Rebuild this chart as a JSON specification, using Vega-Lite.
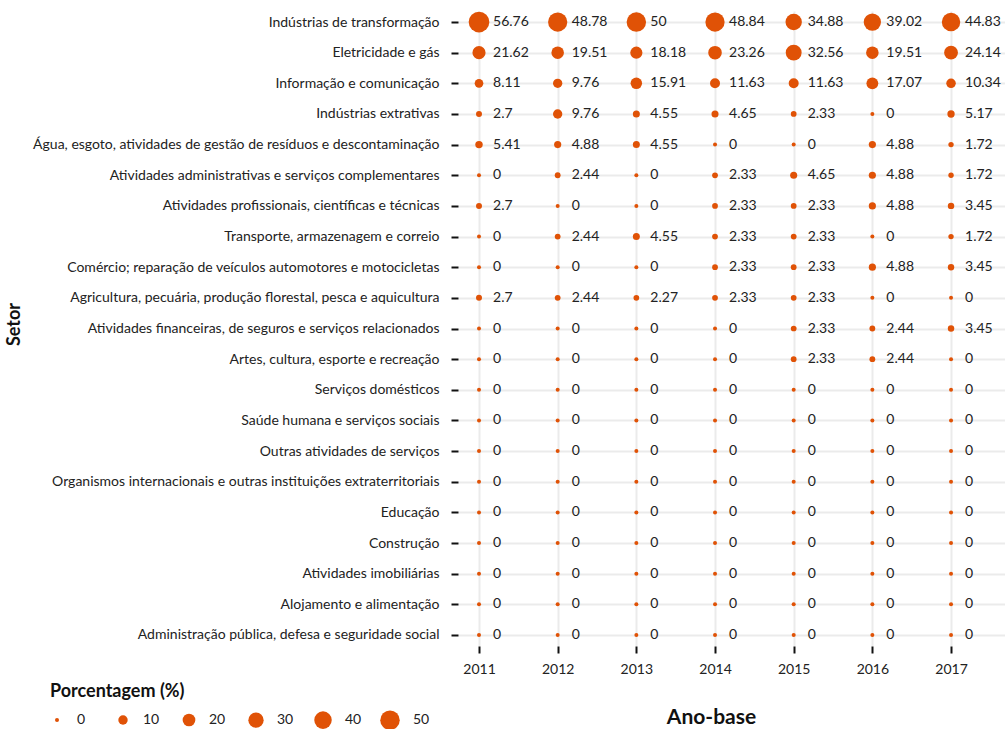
{
  "$schema": "https://vega.github.io/schema/vega-lite/v6.json",
  "width": 547,
  "height": 635,
  "autosize": {"type": "none"},
  "padding": {"left": 458, "top": 11, "right": 0, "bottom": 83},
  "background": "white",
  "config": {
    "view": {"stroke": null},
    "font": "Lato",
    "text": {"font": "Lato"}
  },
  "datasets": {
    "d": [
      {"setor": "Indústrias de transformação", "ano": 2011, "pct": 56.76},
      {"setor": "Indústrias de transformação", "ano": 2012, "pct": 48.78},
      {"setor": "Indústrias de transformação", "ano": 2013, "pct": 50},
      {"setor": "Indústrias de transformação", "ano": 2014, "pct": 48.84},
      {"setor": "Indústrias de transformação", "ano": 2015, "pct": 34.88},
      {"setor": "Indústrias de transformação", "ano": 2016, "pct": 39.02},
      {"setor": "Indústrias de transformação", "ano": 2017, "pct": 44.83},
      {"setor": "Eletricidade e gás", "ano": 2011, "pct": 21.62},
      {"setor": "Eletricidade e gás", "ano": 2012, "pct": 19.51},
      {"setor": "Eletricidade e gás", "ano": 2013, "pct": 18.18},
      {"setor": "Eletricidade e gás", "ano": 2014, "pct": 23.26},
      {"setor": "Eletricidade e gás", "ano": 2015, "pct": 32.56},
      {"setor": "Eletricidade e gás", "ano": 2016, "pct": 19.51},
      {"setor": "Eletricidade e gás", "ano": 2017, "pct": 24.14},
      {"setor": "Informação e comunicação", "ano": 2011, "pct": 8.11},
      {"setor": "Informação e comunicação", "ano": 2012, "pct": 9.76},
      {"setor": "Informação e comunicação", "ano": 2013, "pct": 15.91},
      {"setor": "Informação e comunicação", "ano": 2014, "pct": 11.63},
      {"setor": "Informação e comunicação", "ano": 2015, "pct": 11.63},
      {"setor": "Informação e comunicação", "ano": 2016, "pct": 17.07},
      {"setor": "Informação e comunicação", "ano": 2017, "pct": 10.34},
      {"setor": "Indústrias extrativas", "ano": 2011, "pct": 2.7},
      {"setor": "Indústrias extrativas", "ano": 2012, "pct": 9.76},
      {"setor": "Indústrias extrativas", "ano": 2013, "pct": 4.55},
      {"setor": "Indústrias extrativas", "ano": 2014, "pct": 4.65},
      {"setor": "Indústrias extrativas", "ano": 2015, "pct": 2.33},
      {"setor": "Indústrias extrativas", "ano": 2016, "pct": 0},
      {"setor": "Indústrias extrativas", "ano": 2017, "pct": 5.17},
      {"setor": "Água, esgoto, atividades de gestão de resíduos e descontaminação", "ano": 2011, "pct": 5.41},
      {"setor": "Água, esgoto, atividades de gestão de resíduos e descontaminação", "ano": 2012, "pct": 4.88},
      {"setor": "Água, esgoto, atividades de gestão de resíduos e descontaminação", "ano": 2013, "pct": 4.55},
      {"setor": "Água, esgoto, atividades de gestão de resíduos e descontaminação", "ano": 2014, "pct": 0},
      {"setor": "Água, esgoto, atividades de gestão de resíduos e descontaminação", "ano": 2015, "pct": 0},
      {"setor": "Água, esgoto, atividades de gestão de resíduos e descontaminação", "ano": 2016, "pct": 4.88},
      {"setor": "Água, esgoto, atividades de gestão de resíduos e descontaminação", "ano": 2017, "pct": 1.72},
      {"setor": "Atividades administrativas e serviços complementares", "ano": 2011, "pct": 0},
      {"setor": "Atividades administrativas e serviços complementares", "ano": 2012, "pct": 2.44},
      {"setor": "Atividades administrativas e serviços complementares", "ano": 2013, "pct": 0},
      {"setor": "Atividades administrativas e serviços complementares", "ano": 2014, "pct": 2.33},
      {"setor": "Atividades administrativas e serviços complementares", "ano": 2015, "pct": 4.65},
      {"setor": "Atividades administrativas e serviços complementares", "ano": 2016, "pct": 4.88},
      {"setor": "Atividades administrativas e serviços complementares", "ano": 2017, "pct": 1.72},
      {"setor": "Atividades profissionais, científicas e técnicas", "ano": 2011, "pct": 2.7},
      {"setor": "Atividades profissionais, científicas e técnicas", "ano": 2012, "pct": 0},
      {"setor": "Atividades profissionais, científicas e técnicas", "ano": 2013, "pct": 0},
      {"setor": "Atividades profissionais, científicas e técnicas", "ano": 2014, "pct": 2.33},
      {"setor": "Atividades profissionais, científicas e técnicas", "ano": 2015, "pct": 2.33},
      {"setor": "Atividades profissionais, científicas e técnicas", "ano": 2016, "pct": 4.88},
      {"setor": "Atividades profissionais, científicas e técnicas", "ano": 2017, "pct": 3.45},
      {"setor": "Transporte, armazenagem e correio", "ano": 2011, "pct": 0},
      {"setor": "Transporte, armazenagem e correio", "ano": 2012, "pct": 2.44},
      {"setor": "Transporte, armazenagem e correio", "ano": 2013, "pct": 4.55},
      {"setor": "Transporte, armazenagem e correio", "ano": 2014, "pct": 2.33},
      {"setor": "Transporte, armazenagem e correio", "ano": 2015, "pct": 2.33},
      {"setor": "Transporte, armazenagem e correio", "ano": 2016, "pct": 0},
      {"setor": "Transporte, armazenagem e correio", "ano": 2017, "pct": 1.72},
      {"setor": "Comércio; reparação de veículos automotores e motocicletas ", "ano": 2011, "pct": 0},
      {"setor": "Comércio; reparação de veículos automotores e motocicletas ", "ano": 2012, "pct": 0},
      {"setor": "Comércio; reparação de veículos automotores e motocicletas ", "ano": 2013, "pct": 0},
      {"setor": "Comércio; reparação de veículos automotores e motocicletas ", "ano": 2014, "pct": 2.33},
      {"setor": "Comércio; reparação de veículos automotores e motocicletas ", "ano": 2015, "pct": 2.33},
      {"setor": "Comércio; reparação de veículos automotores e motocicletas ", "ano": 2016, "pct": 4.88},
      {"setor": "Comércio; reparação de veículos automotores e motocicletas ", "ano": 2017, "pct": 3.45},
      {"setor": "Agricultura, pecuária, produção florestal, pesca e aquicultura", "ano": 2011, "pct": 2.7},
      {"setor": "Agricultura, pecuária, produção florestal, pesca e aquicultura", "ano": 2012, "pct": 2.44},
      {"setor": "Agricultura, pecuária, produção florestal, pesca e aquicultura", "ano": 2013, "pct": 2.27},
      {"setor": "Agricultura, pecuária, produção florestal, pesca e aquicultura", "ano": 2014, "pct": 2.33},
      {"setor": "Agricultura, pecuária, produção florestal, pesca e aquicultura", "ano": 2015, "pct": 2.33},
      {"setor": "Agricultura, pecuária, produção florestal, pesca e aquicultura", "ano": 2016, "pct": 0},
      {"setor": "Agricultura, pecuária, produção florestal, pesca e aquicultura", "ano": 2017, "pct": 0},
      {"setor": "Atividades financeiras, de seguros e serviços relacionados", "ano": 2011, "pct": 0},
      {"setor": "Atividades financeiras, de seguros e serviços relacionados", "ano": 2012, "pct": 0},
      {"setor": "Atividades financeiras, de seguros e serviços relacionados", "ano": 2013, "pct": 0},
      {"setor": "Atividades financeiras, de seguros e serviços relacionados", "ano": 2014, "pct": 0},
      {"setor": "Atividades financeiras, de seguros e serviços relacionados", "ano": 2015, "pct": 2.33},
      {"setor": "Atividades financeiras, de seguros e serviços relacionados", "ano": 2016, "pct": 2.44},
      {"setor": "Atividades financeiras, de seguros e serviços relacionados", "ano": 2017, "pct": 3.45},
      {"setor": "Artes, cultura, esporte e recreação", "ano": 2011, "pct": 0},
      {"setor": "Artes, cultura, esporte e recreação", "ano": 2012, "pct": 0},
      {"setor": "Artes, cultura, esporte e recreação", "ano": 2013, "pct": 0},
      {"setor": "Artes, cultura, esporte e recreação", "ano": 2014, "pct": 0},
      {"setor": "Artes, cultura, esporte e recreação", "ano": 2015, "pct": 2.33},
      {"setor": "Artes, cultura, esporte e recreação", "ano": 2016, "pct": 2.44},
      {"setor": "Artes, cultura, esporte e recreação", "ano": 2017, "pct": 0},
      {"setor": "Serviços domésticos", "ano": 2011, "pct": 0},
      {"setor": "Serviços domésticos", "ano": 2012, "pct": 0},
      {"setor": "Serviços domésticos", "ano": 2013, "pct": 0},
      {"setor": "Serviços domésticos", "ano": 2014, "pct": 0},
      {"setor": "Serviços domésticos", "ano": 2015, "pct": 0},
      {"setor": "Serviços domésticos", "ano": 2016, "pct": 0},
      {"setor": "Serviços domésticos", "ano": 2017, "pct": 0},
      {"setor": "Saúde humana e serviços sociais", "ano": 2011, "pct": 0},
      {"setor": "Saúde humana e serviços sociais", "ano": 2012, "pct": 0},
      {"setor": "Saúde humana e serviços sociais", "ano": 2013, "pct": 0},
      {"setor": "Saúde humana e serviços sociais", "ano": 2014, "pct": 0},
      {"setor": "Saúde humana e serviços sociais", "ano": 2015, "pct": 0},
      {"setor": "Saúde humana e serviços sociais", "ano": 2016, "pct": 0},
      {"setor": "Saúde humana e serviços sociais", "ano": 2017, "pct": 0},
      {"setor": "Outras atividades de serviços", "ano": 2011, "pct": 0},
      {"setor": "Outras atividades de serviços", "ano": 2012, "pct": 0},
      {"setor": "Outras atividades de serviços", "ano": 2013, "pct": 0},
      {"setor": "Outras atividades de serviços", "ano": 2014, "pct": 0},
      {"setor": "Outras atividades de serviços", "ano": 2015, "pct": 0},
      {"setor": "Outras atividades de serviços", "ano": 2016, "pct": 0},
      {"setor": "Outras atividades de serviços", "ano": 2017, "pct": 0},
      {"setor": "Organismos internacionais e outras instituições extraterritoriais", "ano": 2011, "pct": 0},
      {"setor": "Organismos internacionais e outras instituições extraterritoriais", "ano": 2012, "pct": 0},
      {"setor": "Organismos internacionais e outras instituições extraterritoriais", "ano": 2013, "pct": 0},
      {"setor": "Organismos internacionais e outras instituições extraterritoriais", "ano": 2014, "pct": 0},
      {"setor": "Organismos internacionais e outras instituições extraterritoriais", "ano": 2015, "pct": 0},
      {"setor": "Organismos internacionais e outras instituições extraterritoriais", "ano": 2016, "pct": 0},
      {"setor": "Organismos internacionais e outras instituições extraterritoriais", "ano": 2017, "pct": 0},
      {"setor": "Educação", "ano": 2011, "pct": 0},
      {"setor": "Educação", "ano": 2012, "pct": 0},
      {"setor": "Educação", "ano": 2013, "pct": 0},
      {"setor": "Educação", "ano": 2014, "pct": 0},
      {"setor": "Educação", "ano": 2015, "pct": 0},
      {"setor": "Educação", "ano": 2016, "pct": 0},
      {"setor": "Educação", "ano": 2017, "pct": 0},
      {"setor": "Construção", "ano": 2011, "pct": 0},
      {"setor": "Construção", "ano": 2012, "pct": 0},
      {"setor": "Construção", "ano": 2013, "pct": 0},
      {"setor": "Construção", "ano": 2014, "pct": 0},
      {"setor": "Construção", "ano": 2015, "pct": 0},
      {"setor": "Construção", "ano": 2016, "pct": 0},
      {"setor": "Construção", "ano": 2017, "pct": 0},
      {"setor": "Atividades imobiliárias", "ano": 2011, "pct": 0},
      {"setor": "Atividades imobiliárias", "ano": 2012, "pct": 0},
      {"setor": "Atividades imobiliárias", "ano": 2013, "pct": 0},
      {"setor": "Atividades imobiliárias", "ano": 2014, "pct": 0},
      {"setor": "Atividades imobiliárias", "ano": 2015, "pct": 0},
      {"setor": "Atividades imobiliárias", "ano": 2016, "pct": 0},
      {"setor": "Atividades imobiliárias", "ano": 2017, "pct": 0},
      {"setor": "Alojamento e alimentação", "ano": 2011, "pct": 0},
      {"setor": "Alojamento e alimentação", "ano": 2012, "pct": 0},
      {"setor": "Alojamento e alimentação", "ano": 2013, "pct": 0},
      {"setor": "Alojamento e alimentação", "ano": 2014, "pct": 0},
      {"setor": "Alojamento e alimentação", "ano": 2015, "pct": 0},
      {"setor": "Alojamento e alimentação", "ano": 2016, "pct": 0},
      {"setor": "Alojamento e alimentação", "ano": 2017, "pct": 0},
      {"setor": "Administração pública, defesa e seguridade social", "ano": 2011, "pct": 0},
      {"setor": "Administração pública, defesa e seguridade social", "ano": 2012, "pct": 0},
      {"setor": "Administração pública, defesa e seguridade social", "ano": 2013, "pct": 0},
      {"setor": "Administração pública, defesa e seguridade social", "ano": 2014, "pct": 0},
      {"setor": "Administração pública, defesa e seguridade social", "ano": 2015, "pct": 0},
      {"setor": "Administração pública, defesa e seguridade social", "ano": 2016, "pct": 0},
      {"setor": "Administração pública, defesa e seguridade social", "ano": 2017, "pct": 0}
    ]
  },
  "data": {"name": "d"},
  "encoding": {
    "x": {
      "field": "ano",
      "type": "quantitative",
      "scale": {"domain": [2010.733, 2017.686], "nice": false, "zero": false},
      "axis": {
        "title": "Ano-base",
        "values": [2011, 2012, 2013, 2014, 2015, 2016, 2017],
        "format": "d",
        "domain": false,
        "grid": true,
        "gridColor": "#EBEBEB",
        "gridWidth": 2,
        "ticks": true,
        "tickColor": "#111111",
        "tickWidth": 2,
        "tickSize": 7,
        "labelFont": "Lato",
        "labelFontSize": 14,
        "labelColor": "#222222",
        "labelPadding": 9,
        "titleFont": "Lato",
        "titleFontSize": 21,
        "titleFontWeight": "bold",
        "titleColor": "#111111",
        "titleX": 253,
        "titleY": 77,
        "titleBaseline": "alphabetic",
        "titleAnchor": "middle"
      }
    },
    "y": {
      "field": "setor",
      "type": "nominal",
      "sort": null,
      "scale": {"type": "point", "padding": 0.36},
      "axis": {
        "title": "Setor",
        "domain": false,
        "grid": true,
        "gridColor": "#EBEBEB",
        "gridWidth": 2,
        "ticks": true,
        "tickColor": "#111111",
        "tickWidth": 2,
        "tickSize": 7,
        "labelFont": "Lato",
        "labelFontSize": 14,
        "labelColor": "#222222",
        "labelPadding": 12,
        "labelLimit": 500,
        "titleFont": "Lato",
        "titleFontSize": 18,
        "titleFontWeight": "bold",
        "titleColor": "#111111",
        "titleX": -439,
        "titleY": 313,
        "titleBaseline": "alphabetic",
        "titleAnchor": "middle"
      }
    }
  },
  "layer": [
    {
      "mark": {"type": "circle", "color": "#E05206", "opacity": 1},
      "encoding": {
        "size": {
          "field": "pct",
          "type": "quantitative",
          "scale": {"domain": [0, 57], "range": [16, 430], "zero": false},
          "legend": {
            "title": "Porcentagem (%)",
            "values": [0, 10, 20, 30, 40, 50],
            "orient": "none",
            "direction": "horizontal",
            "legendX": -408,
            "legendY": 672,
            "gridAlign": "all",
            "columnPadding": 16,
            "labelOffset": 13,
            "symbolFillColor": "#E05206",
            "symbolStrokeWidth": 0,
            "symbolOpacity": 1,
            "titleFont": "Lato",
            "titleFontSize": 18,
            "titleFontWeight": "bold",
            "titleColor": "#111111",
            "titlePadding": 9,
            "labelFont": "Lato",
            "labelFontSize": 14,
            "labelColor": "#222222"
          }
        }
      }
    },
    {
      "mark": {"type": "text", "align": "left", "baseline": "middle", "dx": 14, "font": "Lato", "fontSize": 14, "color": "#222222"},
      "encoding": {
        "text": {"field": "pct", "type": "quantitative"}
      }
    }
  ]
}
